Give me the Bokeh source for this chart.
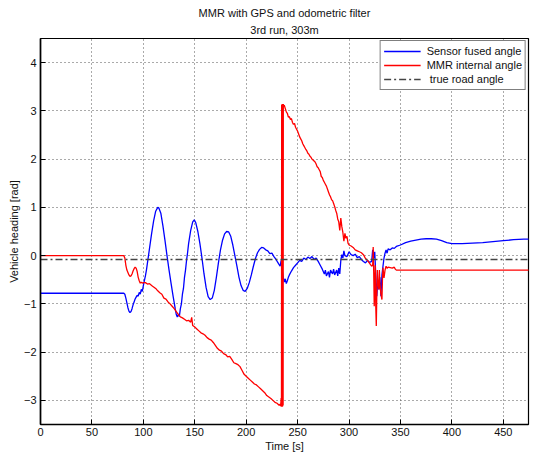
from bokeh.plotting import figure
from bokeh.models import Title, FixedTicker, Range1d
from bokeh.embed import file_html
from bokeh.resources import INLINE

# ---------------- data ----------------
x_ticks = [0, 50, 100, 150, 200, 250, 300, 350, 400, 450]
x_tick_labels = ["0", "50", "100", "150", "200", "250", "300", "350", "400", "450"]
y_ticks = [-3, -2, -1, 0, 1, 2, 3, 4]
y_tick_labels = ["\u22123", "\u22122", "\u22121", "0", "1", "2", "3", "4"]

blue_pts = [
    (0, -0.78), (81, -0.78), (82, -0.80), (83, -0.88), (84, -0.98), (85, -1.08), (86, -1.15),
    (87, -1.18), (88, -1.16), (89, -1.10), (90, -1.02), (91, -0.96), (92, -0.90), (93, -0.86),
    (94, -0.82), (95, -0.84), (96, -0.76), (97, -0.80), (98, -0.70), (99, -0.74), (100, -0.62),
    (101, -0.52), (102, -0.42), (103, -0.30), (104, -0.15), (105, 0.0), (106, 0.15), (108, 0.45),
    (110, 0.72), (112, 0.92), (114, 1.00), (115, 0.99), (117, 0.88), (119, 0.62), (121, 0.32),
    (123, 0.00), (125, -0.30), (127, -0.58), (129, -0.85), (131, -1.10), (132, -1.22), (133, -1.27),
    (134, -1.22), (135, -1.26), (136, -1.10), (137, -1.00), (138, -0.80), (139, -0.68), (140, -0.45),
    (141, -0.30), (142, -0.10), (143, 0.06), (144, 0.25), (146, 0.52), (148, 0.70), (149.5, 0.74),
    (151, 0.68), (153, 0.50), (155, 0.25), (157, -0.05), (159, -0.38), (161, -0.66), (163, -0.85),
    (165, -0.91), (167, -0.88), (169, -0.72), (171, -0.45), (173, -0.15), (175, 0.12), (177, 0.32),
    (179, 0.45), (181, 0.50), (183, 0.49), (185, 0.40), (187, 0.22), (189, 0.00), (191, -0.22),
    (193, -0.45), (195, -0.62), (197, -0.72), (199, -0.74), (201, -0.68), (203, -0.56), (205, -0.40),
    (207, -0.22), (209, -0.06), (211, 0.06), (213, 0.13), (215, 0.17), (217, 0.16), (219, 0.12),
    (221, 0.10), (223, 0.04), (225, 0.05), (227, -0.02), (229, -0.08), (231, -0.15), (233, -0.22),
    (234, -0.10), (235, -0.30), (236, -0.45), (237, -0.55), (238, -0.48), (239, -0.58), (240, -0.52),
    (241, -0.45), (242, -0.40), (244, -0.32), (246, -0.25), (248, -0.20), (250, -0.15), (252, -0.10),
    (254, -0.12), (256, -0.05), (258, -0.08), (260, -0.03), (262, -0.06), (264, -0.02), (266, -0.08),
    (268, -0.05), (270, -0.12), (272, -0.20), (274, -0.28), (276, -0.38), (277, -0.30), (278, -0.42),
    (280, -0.33), (281, -0.45), (282, -0.30), (284, -0.38), (285, -0.28), (286, -0.40), (288, -0.30),
    (289, -0.42), (290, -0.26), (291, -0.38), (292, -0.10), (293, 0.02), (294, -0.05), (295, 0.10),
    (296, 0.00), (298, -0.02), (300, 0.08), (302, 0.02), (304, 0.00), (306, 0.03), (308, -0.04),
    (310, -0.02), (312, -0.08), (314, -0.12), (316, -0.15), (318, -0.10), (320, -0.14), (322, -0.12),
    (323, 0.12), (324, -0.05), (325, 0.08), (326, -0.40), (327, -0.84), (328, -0.50), (329, -0.70),
    (330, -0.45), (331, -0.84), (332, -0.40), (333, -0.22), (334, -0.05), (335, 0.05), (336, 0.12),
    (337, 0.05), (338, 0.14), (340, 0.12), (342, 0.16), (344, 0.15), (346, 0.19), (350, 0.22),
    (355, 0.27), (360, 0.30), (365, 0.32), (370, 0.34), (375, 0.35), (380, 0.35), (385, 0.34),
    (390, 0.31), (395, 0.27), (400, 0.25), (410, 0.25), (420, 0.26), (430, 0.27), (440, 0.29),
    (450, 0.31), (460, 0.33), (470, 0.34), (475, 0.34),
]

red_pts = [
    (0, 0.0), (81, 0.0), (82, -0.05), (83, -0.20), (84, -0.30), (85, -0.35), (86, -0.40), (87, -0.43),
    (88, -0.42), (89, -0.38), (90, -0.32), (91, -0.27), (92, -0.24), (93, -0.26), (94, -0.33),
    (95, -0.45), (96, -0.52), (97, -0.57), (98, -0.55), (99, -0.57), (100, -0.56), (102, -0.56),
    (104, -0.59), (106, -0.58), (108, -0.62), (110, -0.65), (112, -0.68), (114, -0.73), (116, -0.77),
    (118, -0.80), (120, -0.88), (122, -0.90), (124, -0.96), (126, -1.00), (128, -1.05), (130, -1.10),
    (132, -1.16), (134, -1.22), (136, -1.27), (138, -1.29), (140, -1.32), (142, -1.35), (144, -1.34),
    (146, -1.38), (147, -1.28), (148, -1.45), (150, -1.48), (152, -1.52), (154, -1.56), (156, -1.60),
    (158, -1.62), (160, -1.65), (162, -1.70), (164, -1.73), (166, -1.75), (168, -1.80), (170, -1.86),
    (172, -1.92), (174, -1.96), (176, -1.98), (178, -2.03), (180, -2.05), (182, -2.10), (184, -2.09),
    (186, -2.15), (188, -2.22), (190, -2.24), (192, -2.26), (194, -2.30), (196, -2.38), (198, -2.46),
    (200, -2.50), (202, -2.54), (204, -2.58), (206, -2.62), (208, -2.66), (210, -2.68), (212, -2.72),
    (214, -2.76), (216, -2.80), (218, -2.84), (220, -2.90), (222, -2.93), (224, -2.96), (226, -3.00),
    (228, -3.04), (230, -3.06), (232, -3.10), (233, -3.08), (233.5, -3.12), (234, -2.95),
    (234.3, -3.13), (234.5, 3.12), (234.7, -3.13), (234.9, 3.14), (235.1, -3.13), (235.3, 3.13),
    (235.5, -3.12), (235.7, 3.14), (235.9, -3.10), (236.1, 3.14), (236.5, 3.10), (237, 3.12),
    (238, 3.05), (239, 2.98), (240, 2.95), (241, 2.87), (242, 2.88), (243, 2.82), (244, 2.84),
    (245, 2.76), (246, 2.72), (247, 2.74), (248, 2.66), (249, 2.62), (250, 2.58), (251, 2.52),
    (252, 2.46), (253, 2.42), (254, 2.38), (255, 2.32), (256, 2.28), (257, 2.24), (258, 2.20),
    (259, 2.17), (260, 2.12), (261, 2.10), (262, 2.06), (263, 2.04), (264, 2.00), (265, 1.98),
    (266, 1.96), (267, 1.94), (268, 1.90), (269, 1.84), (270, 1.82), (271, 1.78), (272, 1.74),
    (273, 1.64), (274, 1.62), (275, 1.56), (276, 1.52), (277, 1.48), (278, 1.44), (279, 1.38),
    (280, 1.32), (281, 1.26), (282, 1.22), (283, 1.16), (284, 1.14), (285, 1.08), (286, 1.02),
    (287, 0.94), (288, 0.88), (289, 0.76), (290, 0.70), (291, 0.52), (292, 0.78), (293, 0.60),
    (294, 0.48), (295, 0.30), (296, 0.46), (297, 0.36), (298, 0.40), (299, 0.26), (300, 0.22),
    (302, 0.20), (304, 0.17), (306, 0.12), (308, 0.10), (310, 0.08), (312, 0.06), (314, 0.02),
    (316, -0.06), (318, -0.10), (320, -0.16), (322, -0.22), (323, -0.20), (323.5, 0.18), (324, -0.35),
    (324.5, -1.05), (325, -0.60), (325.5, -0.20), (326, -1.05), (326.5, -1.46), (327, -0.80),
    (327.5, -0.30), (328, -0.55), (329, -0.70), (329.5, -0.30), (330, -0.58), (331, -0.80),
    (332, -0.91), (332.5, -0.50), (333, -0.25), (334, -0.46), (335, -0.30), (336, -0.22), (337, -0.26),
    (338, -0.24), (340, -0.25), (342, -0.26), (344, -0.24), (345, -0.28), (346, -0.30), (475, -0.30),
]

road_t = [0, 475]
road_v = [-0.08, -0.08]

blue_t, blue_v = [list(a) for a in zip(*blue_pts)]
red_t, red_v = [list(a) for a in zip(*red_pts)]

FONT = "Liberation Sans"

# ---------------- figure ----------------
p = figure(width=533, height=454, output_backend="svg", toolbar_location=None,
           x_range=Range1d(0, 474.5), y_range=Range1d(-3.5, 4.5), title=None,
           min_border_left=40, min_border_right=5, min_border_top=38, min_border_bottom=30)
p.background_fill_color = "white"
p.border_fill_color = "white"
p.outline_line_color = "black"
p.outline_line_width = 1.2

xt = FixedTicker(ticks=x_ticks)
yt = FixedTicker(ticks=y_ticks)


def style_axis(ax, ticker, labels, ticks):
    ax.ticker = ticker
    ax.axis_line_color = "black"
    ax.axis_line_width = 1.6
    ax.major_tick_in = 5
    ax.major_tick_out = 0
    ax.major_tick_line_color = "black"
    ax.minor_tick_in = 0
    ax.minor_tick_out = 0
    ax.minor_tick_line_color = None
    ax.major_label_overrides = {t: l for t, l in zip(ticks, labels)}
    ax.major_label_text_font = FONT
    ax.major_label_text_font_size = "11px"
    ax.major_label_text_color = "#111111"
    ax.axis_label_text_font = FONT
    ax.axis_label_text_font_size = "11px"
    ax.axis_label_text_font_style = "normal"
    ax.axis_label_text_color = "#111111"


xa = p.xaxis[0]
style_axis(xa, xt, x_tick_labels, x_ticks)
xa.axis_label = "Time [s]"
xa.major_label_standoff = 3
xa.axis_label_standoff = 1

ya = p.yaxis[0]
style_axis(ya, yt, y_tick_labels, y_ticks)
ya.axis_label = "Vehicle heading [rad]"
ya.major_label_standoff = 4
ya.axis_label_standoff = 1

p.xgrid.ticker = xt
p.ygrid.ticker = yt
for g in (p.xgrid, p.ygrid):
    g.grid_line_color = "#555555"
    g.grid_line_dash = "1 3"
    g.grid_line_width = 1

# titles (later added sits farther from the plot)
sub = Title(text="3rd run, 303m", align="center", text_font=FONT, text_font_size="11px",
            text_font_style="normal", text_color="#111111", standoff=6)
p.add_layout(sub, "above")
main = Title(text="MMR with GPS and odometric filter", align="center", text_font=FONT,
             text_font_size="11px", text_font_style="normal", text_color="#111111", standoff=0)
p.add_layout(main, "above")

# ---------------- series ----------------
p.line(blue_t, blue_v, line_color="#0000ff", line_width=1.3, legend_label="Sensor fused angle")
p.line(red_t, red_v, line_color="#ff0000", line_width=1.3, legend_label="MMR internal angle")
p.line(road_t, road_v, line_color="#444444", line_width=1.5, line_dash="7 3 2 3",
       legend_label=" true road angle")

lg = p.legend[0]
lg.location = "top_right"
lg.margin = 2
lg.padding = 3
lg.spacing = 0
lg.glyph_width = 37
lg.glyph_height = 14
lg.label_height = 14
lg.label_standoff = 6
lg.label_text_font = FONT
lg.label_text_font_size = "11px"
lg.label_text_color = "#111111"
lg.border_line_color = "black"
lg.border_line_width = 1
lg.background_fill_color = "white"
lg.background_fill_alpha = 1.0

open("out.html", "w").write(file_html(p, INLINE))
